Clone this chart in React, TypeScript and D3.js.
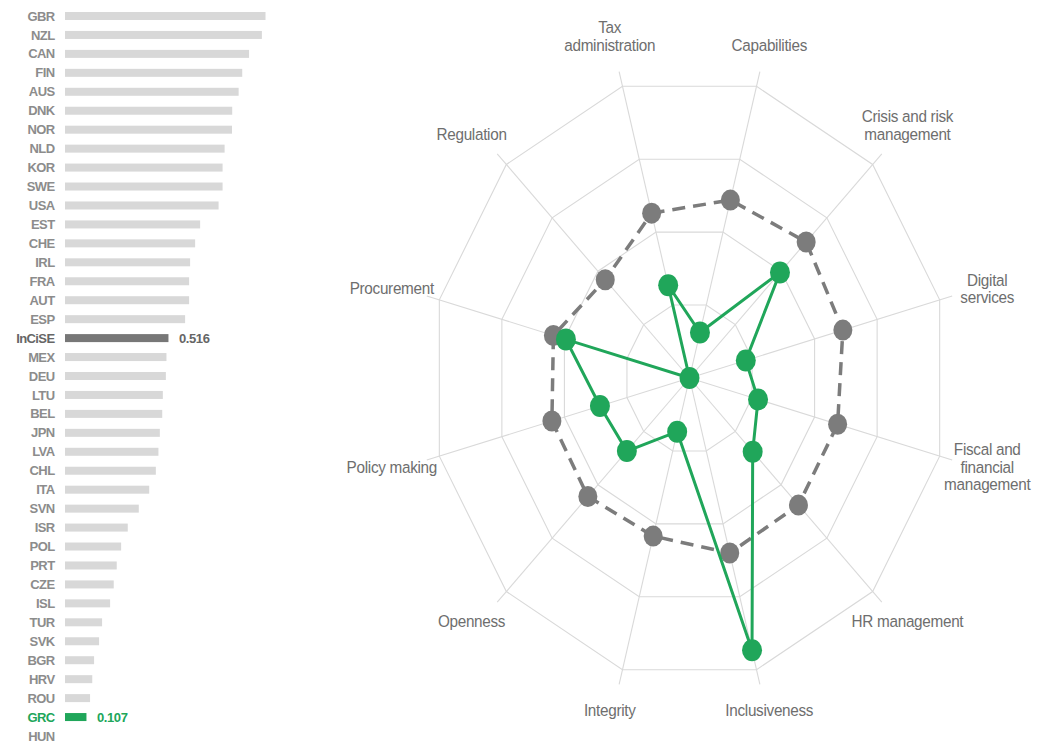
import React from "react";
import * as d3 from "d3";

// ---- Bar chart data ----
const countries = [
  "GBR", "NZL", "CAN", "FIN", "AUS", "DNK", "NOR", "NLD", "KOR", "SWE", "USA", "EST", "CHE",
  "IRL", "FRA", "AUT", "ESP", "InCiSE", "MEX", "DEU", "LTU", "BEL", "JPN", "LVA", "CHL",
  "ITA", "SVN", "ISR", "POL", "PRT", "CZE", "ISL", "TUR", "SVK", "BGR", "HRV", "ROU", "GRC", "HUN",
];
const scores = [
  1.0, 0.982, 0.918, 0.884, 0.866, 0.834, 0.833, 0.796, 0.786, 0.786, 0.766, 0.674, 0.649,
  0.624, 0.619, 0.619, 0.599, 0.516, 0.506, 0.503, 0.488, 0.485, 0.473, 0.466, 0.453,
  0.42, 0.368, 0.313, 0.28, 0.258, 0.243, 0.225, 0.185, 0.17, 0.145, 0.136, 0.125, 0.107, 0,
];
const averageName = "InCiSE";
const focusName = "GRC";

// ---- Radar data ----
const indicators = [
  ["Tax", "administration"],
  ["Capabilities"],
  ["Crisis and risk", "management"],
  ["Digital", "services"],
  ["Fiscal and", "financial", "management"],
  ["HR management"],
  ["Inclusiveness"],
  ["Integrity"],
  ["Openness"],
  ["Policy making"],
  ["Procurement"],
  ["Regulation"],
];
const averageValues = [0.565, 0.61, 0.637, 0.613, 0.592, 0.595, 0.6, 0.542, 0.555, 0.55, 0.544, 0.46];
const greeceValues = [0.318, 0.156, 0.494, 0.225, 0.274, 0.345, 0.933, 0.184, 0.342, 0.358, 0.494, 0];
const gridLevels = [0.25, 0.5, 0.75, 1];

const GREEN = "#20a65a";
const DARK = "#7c7c7c";

export default function App() {
  // bar scales
  const xBar = d3.scaleLinear().domain([0, 1]).range([65, 265.5]);
  const yBar = d3.scalePoint<string>().domain(countries).range([16, 736]);
  const barH = 8;

  // radar scales (picture is stretched vertically)
  const cx = 689.5;
  const cy = 378;
  const rX = d3.scaleLinear().domain([0, 1]).range([0, 259]);
  const rY = d3.scaleLinear().domain([0, 1]).range([0, 302]);
  const angle = d3
    .scaleLinear()
    .domain([0, indicators.length])
    .range([-Math.PI / 12, 2 * Math.PI - Math.PI / 12]);
  const pt = (i: number, v: number): [number, number] => {
    const a = angle(i);
    return [cx + rX(v) * Math.sin(a), cy - rY(v) * Math.cos(a)];
  };
  const closedLine = d3.line<[number, number]>().curve(d3.curveLinearClosed);

  const gridPaths = gridLevels.map((lv) =>
    closedLine(indicators.map((_, i) => pt(i, lv)))
  );
  const avgPts = averageValues.map((v, i) => pt(i, v));
  const grcPts = greeceValues.map((v, i) => pt(i, v));

  const textFont = "'Liberation Sans', Arial, Helvetica, sans-serif";

  return (
    <svg
      width={1045}
      height={744}
      style={{ position: "absolute", left: 0, top: 0, background: "#fff" }}
      fontFamily={textFont}
    >
      {/* ---------- Bar chart ---------- */}
      <g>
        {countries.map((c, i) => {
          const isAvg = c === averageName;
          const isFocus = c === focusName;
          const y = yBar(c) as number;
          const col = isAvg ? "#777" : isFocus ? GREEN : "#d8d8d8";
          const labCol = isAvg ? "#666" : isFocus ? GREEN : "#8c8c8c";
          return (
            <g key={c}>
              <text
                x={54.5}
                y={y + 4.6}
                textAnchor="end"
                fontSize={13}
                fontWeight="bold"
                letterSpacing={-0.6}
                fill={labCol}
              >
                {c}
              </text>
              {scores[i] > 0 && (
                <rect
                  x={xBar(0)}
                  y={y - barH / 2}
                  width={xBar(scores[i]) - xBar(0)}
                  height={barH}
                  fill={col}
                />
              )}
              {(isAvg || isFocus) && (
                <text
                  x={xBar(scores[i]) + 10.5}
                  y={y + 4.6}
                  fontSize={13}
                  fontWeight="bold"
                  letterSpacing={-0.4}
                  fill={labCol}
                >
                  {scores[i].toFixed(3)}
                </text>
              )}
            </g>
          );
        })}
      </g>

      {/* ---------- Radar ---------- */}
      <g>
        {gridPaths.map((d, k) => (
          <path key={k} d={d || ""} fill="none" stroke="#d9d9d9" strokeWidth={1.1} />
        ))}
        {indicators.map((_, i) => {
          const [x2, y2] = pt(i, 1.05);
          return (
            <line key={i} x1={cx} y1={cy} x2={x2} y2={y2} stroke="#d9d9d9" strokeWidth={1.1} />
          );
        })}
        {indicators.map((lines, i) => {
          const a = angle(i);
          const lx = cx + rX(1.19) * Math.sin(a);
          const ly = cy - rY(1.14) * Math.cos(a);
          const lh = 17.5;
          const n = lines.length;
          const c = Math.cos(a);
          // upper labels: last line sits at anchor; lower labels: first line at anchor; sides: centred
          const firstCenter =
            c > 0.5 ? ly - (n - 1) * lh : c < -0.5 ? ly : ly - ((n - 1) / 2) * lh;
          return (
            <g key={i}>
              {lines.map((ln, j) => {
                const yy = firstCenter + j * lh + 5.4;
                return (
                  <text
                    key={j}
                    transform={`translate(${lx},${yy}) scale(1,1.12)`}
                    textAnchor="middle"
                    fontSize={15.3}
                    letterSpacing={-0.3}
                    fill="#6e6e6e"
                  >
                    {ln}
                  </text>
                );
              })}
            </g>
          );
        })}

        {/* average (dashed gray) */}
        <path
          d={closedLine(avgPts) || ""}
          fill="none"
          stroke={DARK}
          strokeWidth={3.5}
          strokeDasharray="13,8"
        />
        {avgPts.map(([x, y], i) => (
          <ellipse key={i} cx={x} cy={y} rx={9.5} ry={10.5} fill={DARK} />
        ))}

        {/* Greece (green) */}
        <path d={closedLine(grcPts) || ""} fill="none" stroke={GREEN} strokeWidth={3} />
        {grcPts.map(([x, y], i) => (
          <ellipse key={i} cx={x} cy={y} rx={10} ry={11} fill={GREEN} />
        ))}
      </g>
    </svg>
  );
}
